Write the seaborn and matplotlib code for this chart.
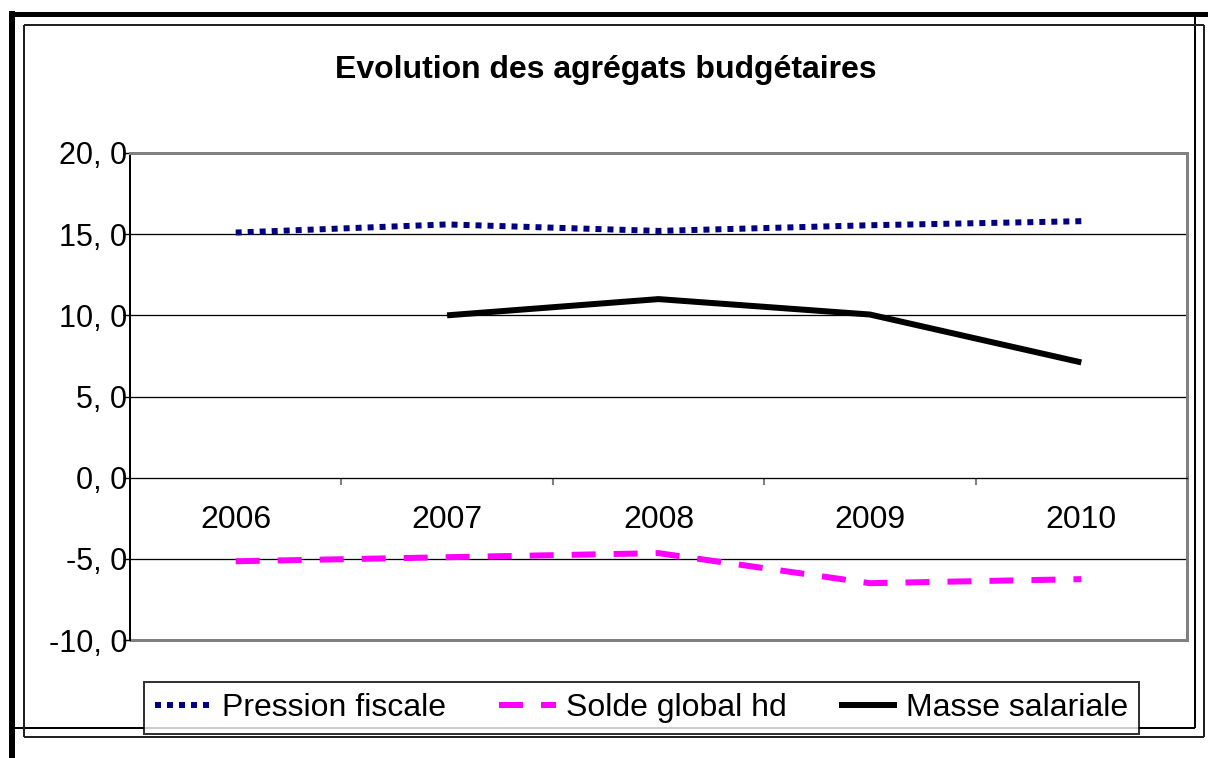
import matplotlib
matplotlib.use("Agg")
import matplotlib.pyplot as plt
from matplotlib.lines import Line2D
from matplotlib.ticker import FixedLocator, FuncFormatter
import numpy as np
import seaborn as sns

years = [2006, 2007, 2008, 2009, 2010]
year_labels = ["2006", "2007", "2008", "2009", "2010"]
pression_fiscale = [15.1, 15.6, 15.2, 15.55, 15.8]
solde_global_hd = [-5.15, -4.9, -4.65, -6.5, -6.25]
masse_salariale = [np.nan, 10.0, 11.0, 10.05, 7.1]
y_ticks = [-10, -5, 0, 5, 10, 15, 20]
series_names = ["Pression fiscale", "Solde global hd", "Masse salariale"]
title = "Evolution des agrégats budgétaires"

sns.set_style("white")
plt.rcParams["font.family"] = ["Liberation Sans", "DejaVu Sans"]
plt.rcParams["text.color"] = "black"
plt.rcParams["xtick.color"] = "black"
plt.rcParams["ytick.color"] = "black"

W, H = 1208, 758
fig = plt.figure(figsize=(W / 100, H / 100), dpi=100)
ax = fig.add_axes([130 / W, 1 - 640 / H, (1187 - 130) / W, (640 - 153) / H])

px = 72 / 100  # points per pixel

sns.lineplot(x=years, y=pression_fiscale, ax=ax, color="#000080", lw=6 * px,
             label=series_names[0])
sns.lineplot(x=years, y=solde_global_hd, ax=ax, color="#FF00FF", lw=6 * px,
             label=series_names[1])
sns.lineplot(x=years, y=masse_salariale, ax=ax, color="black", lw=6 * px,
             label=series_names[2])
lines = ax.get_lines()
lines[0].set_linestyle((0, (1, 1)))
lines[0].set_dash_capstyle("butt")
lines[1].set_linestyle((0, (4, 3)))
lines[1].set_dash_capstyle("butt")
lines[2].set_solid_capstyle("butt")

ax.set_xlim(2005.5, 2010.5)
ax.set_ylim(-10, 20)

# gridlines
for v in [15, 10, 5, -5]:
    ax.axhline(v, color="black", lw=1.3 * px, zorder=0)
ax.axhline(-10, color="#808080", lw=3 * px, zorder=0, clip_on=False)

ax.spines["bottom"].set_position(("data", 0))
ax.spines["bottom"].set_color("black")
ax.spines["bottom"].set_linewidth(1.3 * px)
ax.spines["left"].set_color("black")
ax.spines["left"].set_linewidth(2 * px)
for s in ["top", "right"]:
    ax.spines[s].set_color("#808080")
    ax.spines[s].set_linewidth(3 * px)

ax.set_yticks(y_ticks)
ax.yaxis.set_major_formatter(FuncFormatter(lambda v, p: f"{int(v)}, 0"))
ax.tick_params(axis="y", which="major", left=True, length=5, width=1,
               color="black", labelsize=22, pad=-3)

ax.set_xticks(years)
ax.set_xticklabels(year_labels)
ax.xaxis.set_minor_locator(FixedLocator([2006.5, 2007.5, 2008.5, 2009.5]))
ax.tick_params(axis="x", which="major", bottom=True, length=0, labelsize=23, pad=20)
ax.tick_params(axis="x", which="minor", bottom=True, length=5, width=1.5,
               color="#808080", direction="out")
ax.set_xlabel("")
ax.set_ylabel("")

fig.text(606 / W, 1 - 70 / H, title, ha="center", va="center",
         fontsize=23, fontweight="bold")

if ax.legend_:
    ax.legend_.remove()
leg = fig.legend(lines[:3], series_names,
                 loc="center", bbox_to_anchor=(641.5 / W, 1 - 708 / H), ncol=3,
                 fontsize=23, frameon=True, fancybox=False, edgecolor="black",
                 handlelength=1.8, handletextpad=0.3, columnspacing=1.65,
                 borderpad=0.35, borderaxespad=0)
leg.get_frame().set_linewidth(2 * px)
leg.set_zorder(10)

# decorative frames
def fline(x0, y0, x1, y1, lw, color="black", z=1):
    fig.add_artist(Line2D([x0 / W, x1 / W], [1 - y0 / H, 1 - y1 / H],
                          transform=fig.transFigure, color=color, lw=lw * px,
                          zorder=z, solid_capstyle="butt"))

fline(12, 13.5, 1208, 13.5, 5)
fline(12, 11, 12, 758, 6)
fline(12, 728, 1195, 728, 2)
fline(1195, 13.5, 1195, 728, 2)
fline(24, 25, 1204, 25, 2, "#202020")
fline(24, 25, 24, 737, 2, "#202020")
fline(24, 737, 1204, 737, 2, "#202020")
fline(1204, 25, 1204, 737, 2, "#202020")

fig.savefig("out.png", dpi=100)
